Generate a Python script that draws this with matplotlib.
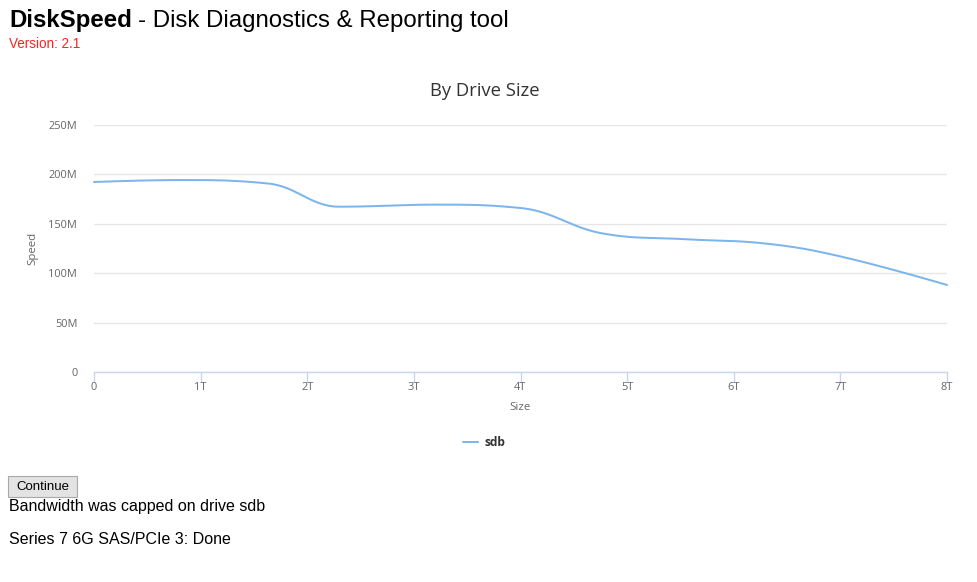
import numpy as np
import matplotlib
matplotlib.use("Agg")
import matplotlib.pyplot as plt
from matplotlib.patches import FancyBboxPatch

W, H = 977, 582

# drive size in TB vs speed in MB/s
size_tb = [0.0, 0.8, 1.65, 2.3, 3.2, 4.0, 4.8, 5.5, 6.3, 7.0, 8.0]
speed_mb = [192.3, 194.3, 190.6, 167.3, 169.4, 166.0, 139.7, 134.6, 130.0, 117.0, 88.1]
x_ticks = [0, 1, 2, 3, 4, 5, 6, 7, 8]
x_labels = ["0", "1T", "2T", "3T", "4T", "5T", "6T", "7T", "8T"]
y_ticks = [0, 50, 100, 150, 200, 250]
y_labels = ["0", "50M", "100M", "150M", "200M", "250M"]

CHART_FONT = ["Open Sans", "DejaVu Sans"]
PAGE_FONT = ["Liberation Sans", "DejaVu Sans"]
PT = 72 / 100  # px -> pt at dpi 100


def px(x, y):
    return x / W, 1 - y / H


def spline(xs, ys, smoothing=1.5, n=30):
    # highcharts-style bezier spline through the points
    xs, ys = np.asarray(xs, float), np.asarray(ys, float)
    k = len(xs)
    lc = np.column_stack([xs, ys]).copy()
    rc = lc.copy()
    d = smoothing + 1
    for i in range(1, k - 1):
        lx = (smoothing * xs[i] + xs[i - 1]) / d
        ly = (smoothing * ys[i] + ys[i - 1]) / d
        rx = (smoothing * xs[i] + xs[i + 1]) / d
        ry = (smoothing * ys[i] + ys[i + 1]) / d
        corr = (ry - ly) * (rx - xs[i]) / (rx - lx) + ys[i] - ry
        ly += corr
        ry += corr
        if ly > ys[i - 1] and ly > ys[i]:
            ly = max(ys[i - 1], ys[i]); ry = 2 * ys[i] - ly
        elif ly < ys[i - 1] and ly < ys[i]:
            ly = min(ys[i - 1], ys[i]); ry = 2 * ys[i] - ly
        if ry > ys[i + 1] and ry > ys[i]:
            ry = max(ys[i + 1], ys[i]); ly = 2 * ys[i] - ry
        elif ry < ys[i + 1] and ry < ys[i]:
            ry = min(ys[i + 1], ys[i]); ly = 2 * ys[i] - ry
        lc[i] = (lx, ly)
        rc[i] = (rx, ry)
    t = np.linspace(0, 1, n)[:, None]
    pts = []
    for i in range(1, k):
        p0 = np.array([xs[i - 1], ys[i - 1]]); p3 = np.array([xs[i], ys[i]])
        p1, p2 = rc[i - 1], lc[i]
        seg = ((1 - t) ** 3) * p0 + 3 * ((1 - t) ** 2) * t * p1 + 3 * (1 - t) * t ** 2 * p2 + t ** 3 * p3
        pts.append(seg if i == 1 else seg[1:])
    pts = np.vstack(pts)
    return pts[:, 0], pts[:, 1]


fig = plt.figure(figsize=(W / 100, H / 100), dpi=100)

# page header
fig.text(*px(9, 21), "DiskSpeed", fontsize=24 * PT, fontweight="bold", family=PAGE_FONT,
         va="center", ha="left", color="black")
fig.text(*px(138, 21), "- Disk Diagnostics & Reporting tool", fontsize=24 * PT, family=PAGE_FONT,
         va="center", ha="left", color="black")
fig.text(*px(9, 44), "Version: 2.1", fontsize=13.5 * PT, family=PAGE_FONT,
         va="center", ha="left", color="#ff2020")

# chart
ax = fig.add_axes([94 / W, 1 - 372 / H, (947 - 94) / W, (372 - 125) / H])
ax.set_xlim(0, 8)
ax.set_ylim(0, 250)
ax.set_yticks(y_ticks, y_labels)
ax.set_xticks(x_ticks, x_labels)
ax.grid(axis="y", color="#e6e6e6", lw=1)
ax.set_axisbelow(True)
for s in ("top", "right", "left"):
    ax.spines[s].set_visible(False)
ax.spines["bottom"].set_color("#ccd6eb")
ax.spines["bottom"].set_linewidth(1)
ax.tick_params(axis="y", length=0, pad=12, labelsize=11 * PT, labelcolor="#666666")
ax.tick_params(axis="x", length=10 * PT, width=1, color="#ccd6eb", pad=0,
               labelsize=11 * PT, labelcolor="#666666")
for lab in ax.get_xticklabels() + ax.get_yticklabels():
    lab.set_family(CHART_FONT)

sx, sy = spline(size_tb, speed_mb)
ax.plot(sx, sy, color="#7cb5ec", lw=2 * PT, solid_capstyle="round", clip_on=False)

ax.set_xlabel("Size", fontsize=11.5 * PT, color="#666666", family=CHART_FONT, va="center")
ax.set_ylabel("Speed", fontsize=11.5 * PT, color="#666666", family=CHART_FONT, va="center")
ax.xaxis.set_label_coords(*px(520, 407), transform=fig.transFigure)
ax.yaxis.set_label_coords(*px(33, 248), transform=fig.transFigure)
fig.text(*px(485, 91), "By Drive Size", fontsize=18.5 * PT, color="#333333", family=CHART_FONT,
         ha="center", va="center")

# legend
leg = ax.legend(handles=ax.lines, labels=["sdb"], loc="center", bbox_to_anchor=px(484, 443),
                bbox_transform=fig.transFigure, frameon=False, handlelength=1.25,
                handletextpad=0.5, prop={"family": CHART_FONT, "weight": "bold", "size": 12 * PT})
for t in leg.get_texts():
    t.set_color("#333333")

# page footer
btn = FancyBboxPatch(px(8, 497), 69 / W, 21 / H, boxstyle="square,pad=0", transform=fig.transFigure,
                     facecolor="#e3e3e3", edgecolor="#a8a8a8", lw=0.8)
fig.patches.append(btn)
fig.text(*px(42.5, 487), "Continue", fontsize=13.3 * PT, family=PAGE_FONT,
         ha="center", va="center", color="black")
fig.text(*px(9, 506), "Bandwidth was capped on drive sdb", fontsize=16 * PT, family=PAGE_FONT,
         ha="left", va="center", color="black")
fig.text(*px(9, 540), "Series 7 6G SAS/PCIe 3: Done", fontsize=16 * PT, family=PAGE_FONT,
         ha="left", va="center", color="black")

fig.savefig("out.png", dpi=100)
